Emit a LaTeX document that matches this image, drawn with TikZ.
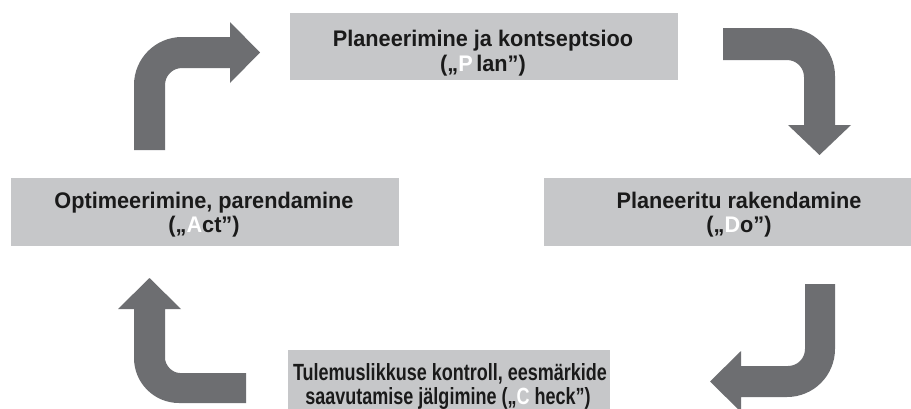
\documentclass[tikz,border=0pt]{standalone}
\usepackage{fontspec}
\setmainfont{Liberation Sans}
\usepackage{graphicx}
\definecolor{boxgray}{HTML}{C6C7C9}
\definecolor{arrowgray}{HTML}{6D6E71}
\definecolor{txt}{HTML}{1A1A1A}
\tikzset{
  box/.style={fill=boxgray, draw=none, inner sep=0pt, outer sep=0pt, rectangle},
  lbl/.style={font=\bfseries\fontsize{21.7}{26}\selectfont, text=txt, inner sep=0pt, anchor=base},
  bentarrow/.style={fill=arrowgray, draw=none}
}
\begin{document}
\begin{tikzpicture}[x=1pt,y=-1pt]
\useasboundingbox (0,0) rectangle (911,408);
\clip (0,0) rectangle (911,408);
\fill[white] (0,0) rectangle (911,408);

% boxes
\node[box, minimum width=388pt, minimum height=67pt] (plan) at (484,46.5) {};
\node[box, minimum width=368pt, minimum height=68pt] (do) at (728,212) {};
\node[box, minimum width=388pt, minimum height=68pt] (act) at (205,212) {};
\node[box, minimum width=322pt, minimum height=60pt] (check) at (449,380) {};

% texts
\node[lbl] (p1) at (483,46) {\scalebox{1}[1.04]{Planeerimine ja kontseptsioo}};
\node[lbl] (p2) at (483,71.5) {\scalebox{1}[1.04]{(„{\color{white}P}\,lan”)}};
\node[lbl] (d1) at (739,208) {\scalebox{1}[1.04]{Planeeritu rakendamine}};
\node[lbl] (d2) at (739,232.5) {\scalebox{1}[1.04]{(„{\color{white}D}o”)}};
\node[lbl] (a1) at (204,208) {\scalebox{1}[1.04]{Optimeerimine, parendamine}};
\node[lbl] (a2) at (204,232.5) {\scalebox{1}[1.04]{(„{\color{white}A}ct”)}};
\node[lbl] (c1) at (450,380) {\scalebox{0.83}[1.08]{Tulemuslikkuse kontroll, eesmärkide}};
\node[lbl] (c2) at (448,404) {\scalebox{0.83}[1.08]{saavutamise jälgimine („{\color{white}C} heck”)}};

% top-left arrow: up, then right (Act -> Plan)
\fill[bentarrow] (134,150) -- (134,85) .. controls (134,58.5) and (155.5,37) .. (182,37)
  -- (230,37) -- (230,22) -- (260,52.5) -- (230,83) -- (230,68) -- (182,68)
  .. controls (172.6,68) and (165,75.6) .. (165,85) -- (165,150) -- cycle;

% top-right arrow: right, then down (Plan -> Do)
\fill[bentarrow] (723,28) -- (787,28) .. controls (813.5,28) and (835,49.5) .. (835,76)
  -- (835,125) -- (851,125) -- (819.5,155) -- (788,125) -- (804,125) -- (804,77)
  .. controls (804,67.6) and (796.4,60) .. (787,60) -- (723,60) -- cycle;

% bottom-right arrow: down, then left (Do -> Check)
\fill[bentarrow] (805,284) -- (835,284) -- (835,349) .. controls (835,375.5) and (813.5,397) .. (787,397)
  -- (741,397) -- (741,412) -- (710,381.5) -- (741,351) -- (741,366) -- (788,366)
  .. controls (797.4,366) and (805,358.4) .. (805,349) -- cycle;

% bottom-left arrow: left, then up (Check -> Act)
\fill[bentarrow] (246,373) -- (180,373) .. controls (171.7,373) and (165,364.7) .. (165,358)
  -- (165,309) -- (181,309) -- (149.5,278) -- (118,309) -- (134,309) -- (134,358)
  .. controls (134,382.9) and (154.1,403) .. (179,403) -- (246,403) -- cycle;
\end{tikzpicture}
\end{document}
